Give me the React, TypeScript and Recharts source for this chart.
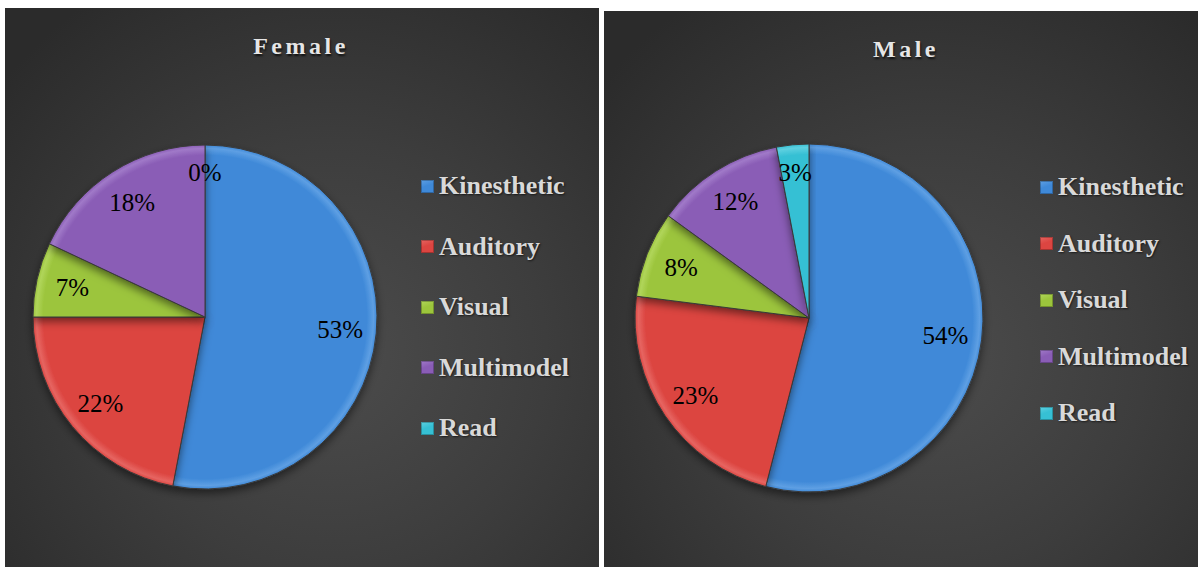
import React from 'react';
import { PieChart, Pie, Cell, Legend } from 'recharts';

const categories = ['Kinesthetic', 'Auditory', 'Visual', 'Multimodel', 'Read'];
const femaleValues = [53, 22, 7, 18, 0];
const maleValues = [54, 23, 8, 12, 3];
const colors = ['#3f89d8', '#dc4541', '#9cc53c', '#8a5db6', '#36c0d4'];
const rims = ['#5e9fe3', '#e66561', '#b0d55a', '#a079c8', '#5ed0e0'];

const RAD = Math.PI / 180;
const serif = '"Liberation Serif", "Times New Roman", serif';

function makeLabel(props: any) {
  const { cx, cy, midAngle, outerRadius, value } = props;
  // small slices sit a little further out, like Excel's best fit
  const r = outerRadius * (value < 5 ? 0.84 : 0.79);
  const x = cx + r * Math.cos(-midAngle * RAD);
  const y = cy + r * Math.sin(-midAngle * RAD);
  return (
    <text x={x} y={y} textAnchor="middle" dominantBaseline="central"
      fill="#000" fontFamily={serif} fontSize={25}>
      {value}%
    </text>
  );
}

function makeLegend(rowH: number) {
  return (props: any) => {
    const items = [...(props.payload || [])].sort(
      (a: any, b: any) => categories.indexOf(a.value) - categories.indexOf(b.value)
    );
    return (
      <div>
        {items.map((entry: any) => {
          const i = categories.indexOf(entry.value);
          return (
            <div key={entry.value} style={{ height: rowH, display: 'flex', alignItems: 'center' }}>
              <span style={{
                width: 13, height: 13, marginRight: 5, display: 'inline-block',
                background: `linear-gradient(160deg, ${rims[i]} 0%, ${colors[i]} 45%, ${colors[i]} 100%)`,
                boxShadow: 'inset 0 0 0 1px rgba(0,0,0,0.25)',
              }} />
              <span style={{ color: '#d9d9d9', fontFamily: serif, fontWeight: 'bold', fontSize: 26, textShadow: '1px 1px 2px rgba(0,0,0,0.6)' }}>
                {entry.value}
              </span>
            </div>
          );
        })}
      </div>
    );
  };
}

type PanelProps = {
  id: string;
  title: string;
  values: number[];
  left: number;
  top: number;
  height: number;
  cx: number;
  cy: number;
  radius: number;
  titleX: number;
  legendLeft: number;
  legendTop: number;
  rowH: number;
};

function Panel(p: PanelProps) {
  const data = categories.map((name, i) => ({ name, value: p.values[i] }));
  const width = 594;
  return (
    <div style={{
      position: 'absolute', left: p.left, top: p.top, width, height: p.height,
      background: 'radial-gradient(circle at 55% 62%, #4c4c4c 0%, #3d3d3d 45%, #2b2b2b 90%)',
    }}>
      <div style={{
        position: 'absolute', left: p.titleX - 100, top: 26, width: 200, textAlign: 'center',
        color: '#e6e6e6', fontFamily: serif, fontWeight: 'bold', fontSize: 24, letterSpacing: 3.5,
        textShadow: '1px 2px 2px rgba(0,0,0,0.7)', lineHeight: '24px',
      }}>
        {p.title}
      </div>
      <PieChart width={width} height={p.height} margin={{ top: 0, right: 0, bottom: 0, left: 0 }}>
        <defs>
          {colors.map((c, i) => (
            <radialGradient key={c} id={`${p.id}-g${i}`} cx={p.cx} cy={p.cy} r={p.radius} gradientUnits="userSpaceOnUse">
              <stop offset="0%" stopColor={c} />
              <stop offset="94%" stopColor={c} />
              <stop offset="98%" stopColor={rims[i]} />
              <stop offset="100%" stopColor={c} />
            </radialGradient>
          ))}
          <filter id={`${p.id}-sh`} x="-20%" y="-20%" width="140%" height="140%">
            <feDropShadow dx="0" dy="4" stdDeviation="4" floodColor="#000" floodOpacity="0.5" />
          </filter>
        </defs>
        <Pie
          data={data}
          dataKey="value"
          nameKey="name"
          cx={p.cx}
          cy={p.cy}
          outerRadius={p.radius}
          startAngle={90}
          endAngle={-270}
          stroke="#3a3a3a"
          strokeWidth={1}
          label={makeLabel}
          labelLine={false}
          isAnimationActive={false}
        >
          {data.map((d, i) => (
            <Cell key={d.name} fill={`url(#${p.id}-g${i})`} filter={`url(#${p.id}-sh)`} />
          ))}
        </Pie>
        <Legend
          layout="vertical"
          align="right"
          verticalAlign="top"
          content={makeLegend(p.rowH)}
          wrapperStyle={{ left: p.legendLeft, top: p.legendTop, width: 175, right: 'auto' }}
        />
      </PieChart>
    </div>
  );
}

export default function App() {
  return (
    <div style={{ position: 'absolute', left: 0, top: 0, width: 1198, height: 567, background: '#fff', overflow: 'hidden' }}>
      <Panel id="f" title="Female" values={femaleValues} left={5} top={8} height={559}
        cx={200} cy={309} radius={172} titleX={296} legendLeft={416} legendTop={148} rowH={60.5} />
      <Panel id="m" title="Male" values={maleValues} left={604} top={11} height={556}
        cx={205} cy={307} radius={174} titleX={302} legendLeft={436} legendTop={148} rowH={56.5} />
    </div>
  );
}
